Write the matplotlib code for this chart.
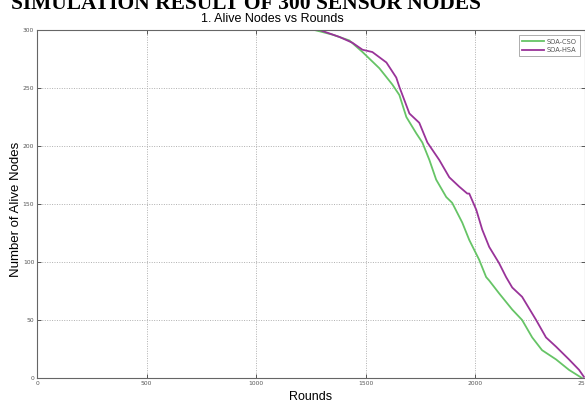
import matplotlib
matplotlib.use("Agg")
import matplotlib.pyplot as plt

# Data
rounds_cso = [0, 1266, 1348, 1425, 1485, 1562, 1621, 1653, 1685, 1730, 1758, 1790, 1821,
              1867, 1894, 1940, 1972, 2017, 2049, 2063, 2108, 2168, 2213, 2259, 2304,
              2368, 2427, 2486]
alive_cso = [300, 300, 296, 291, 281, 267, 253, 244, 225, 211, 203, 188, 171,
             156, 151, 134, 119, 102, 87, 84, 73, 59, 50, 35, 24,
             16, 7, 0]

rounds_hsa = [0, 1289, 1380, 1439, 1485, 1530, 1594, 1639, 1653, 1699, 1744, 1781, 1835,
              1881, 1926, 1963, 1972, 2004, 2031, 2063, 2108, 2140, 2168, 2213, 2277,
              2322, 2368, 2427, 2473, 2495]
alive_hsa = [300, 300, 294, 289, 283, 281, 272, 259, 251, 228, 220, 203, 188,
             173, 165, 159, 159, 145, 128, 113, 99, 87, 78, 70, 50,
             35, 27, 16, 7, 1]

x_ticks = [0, 500, 1000, 1500, 2000, 2500]
y_ticks = [0, 50, 100, 150, 200, 250, 300]
series_names = ["SOA-CSO", "SOA-HSA"]

W, H = 585, 403
fig = plt.figure(figsize=(W / 100, H / 100), dpi=100)
ax = fig.add_axes([37 / W, 1 - 378 / H, (585 - 37) / W, (378 - 30) / H])

ax.plot(rounds_cso, alive_cso, color="#66c466", lw=1.3, label=series_names[0])
ax.plot(rounds_hsa, alive_hsa, color="#993399", lw=1.3, label=series_names[1])

ax.set_xlim(0, 2500)
ax.set_ylim(0, 300)
ax.set_xticks(x_ticks)
ax.set_yticks(y_ticks)
ax.grid(True, color="#b0b0b0", linestyle=(0, (1, 1.5)), linewidth=0.7)
ax.tick_params(direction="in", length=3, width=0.7, labelsize=4.3, colors="#555555",
               top=True, right=True, pad=2)
for sp in ax.spines.values():
    sp.set_color("#666666")
    sp.set_linewidth(0.8)

fig.text(246 / W, 1 - 9 / H, "SIMULATION RESULT OF 300 SENSOR NODES",
         family="Liberation Serif", weight="bold", fontsize=15.5, ha="center", va="baseline")
fig.text(272 / W, 1 - 22 / H, "1. Alive Nodes vs Rounds",
         family="Liberation Sans", fontsize=9, ha="center", va="baseline")
fig.text(16 / W, 1 - 209 / H, "Number of Alive Nodes", family="Liberation Sans",
         fontsize=9.5, rotation=90, ha="center", va="center")
fig.text(311 / W, 1 - 397 / H, "Rounds", family="Liberation Sans",
         fontsize=9, ha="center", va="center")

leg = ax.legend(loc="upper right", fontsize=4.8, handlelength=3.2, frameon=True,
                fancybox=False, edgecolor="#888888", borderaxespad=0.8,
                labelspacing=0.35, handletextpad=0.4, borderpad=0.5)
leg.get_frame().set_linewidth(0.6)
for t in leg.get_texts():
    t.set_color("#555555")

fig.savefig("out.png", dpi=100)
